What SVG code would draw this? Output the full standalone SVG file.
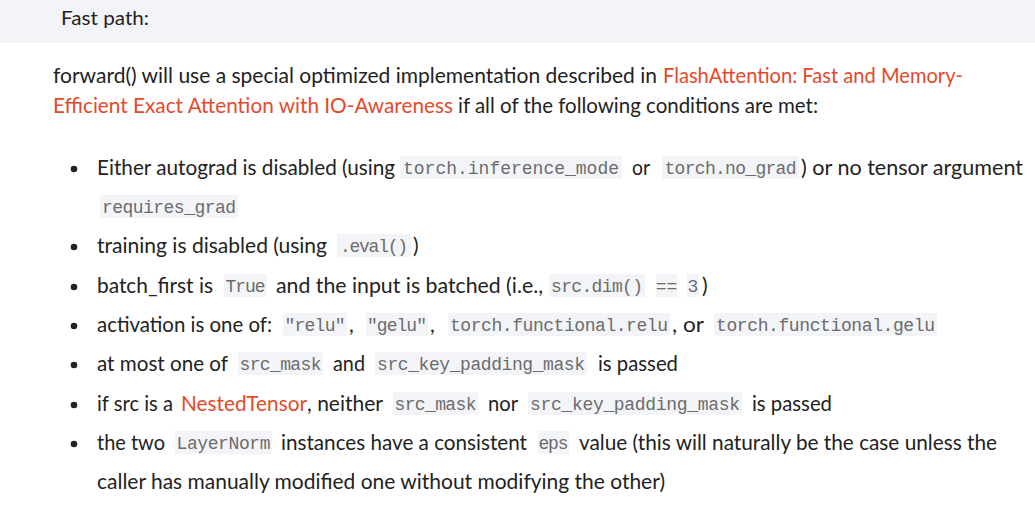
<svg xmlns="http://www.w3.org/2000/svg" width="1035" height="511" viewBox="0 0 1035 511">
<style>
.t{font-family:Lato,"Open Sans","Liberation Sans",sans-serif;font-size:21px;fill:#222222}
.h{font-family:Lato,"Open Sans","Liberation Sans",sans-serif;font-size:20px;fill:#222222}
.a{fill:#e5492b}
.c{font-family:"Liberation Mono","DejaVu Sans Mono",monospace;font-size:18px;fill:#6c6c6d;text-anchor:middle}
.cb{fill:#f3f4f7}
.d{fill:#222222}
</style>
<rect x="0" y="0" width="1035" height="43" fill="#f3f4f7"/>
<text class="h" x="61" y="25" textLength="88" lengthAdjust="spacingAndGlyphs">Fast path:</text>

<g id="intro">
<text class="t" x="53" y="83" textLength="604" lengthAdjust="spacingAndGlyphs">forward() will use a special optimized implementation described in</text>
<text class="t a" x="663" y="83" textLength="300" lengthAdjust="spacingAndGlyphs">FlashAttention: Fast and Memory-</text>
<text class="t a" x="53" y="113" textLength="400" lengthAdjust="spacingAndGlyphs">Efficient Exact Attention with IO-Awareness</text>
<text class="t" x="458" y="113" textLength="360" lengthAdjust="spacingAndGlyphs">if all of the following conditions are met:</text>
</g>

<g id="bullets">
<circle class="d" cx="74" cy="169" r="3.3"/>
<circle class="d" cx="74" cy="247" r="3.3"/>
<circle class="d" cx="74" cy="287" r="3.3"/>
<circle class="d" cx="74" cy="326" r="3.3"/>
<circle class="d" cx="74" cy="365" r="3.3"/>
<circle class="d" cx="74" cy="405" r="3.3"/>
<circle class="d" cx="74" cy="444" r="3.3"/>
</g>

<g id="code-boxes">
<rect class="cb" x="400" y="156" width="222" height="23"/>
<rect class="cb" x="662" y="156" width="137" height="23"/>
<rect class="cb" x="100" y="195" width="138" height="23"/>
<rect class="cb" x="337" y="234" width="74" height="23"/>
<rect class="cb" x="224" y="274" width="43" height="23"/>
<rect class="cb" x="549" y="274" width="96" height="23"/>
<rect class="cb" x="656" y="274" width="21" height="23"/>
<rect class="cb" x="687" y="274" width="12" height="23"/>
<rect class="cb" x="283" y="313" width="64" height="23"/>
<rect class="cb" x="366" y="313" width="62" height="23"/>
<rect class="cb" x="448" y="313" width="222" height="23"/>
<rect class="cb" x="714" y="313" width="223" height="23"/>
<rect class="cb" x="238" y="352" width="85" height="23"/>
<rect class="cb" x="375" y="352" width="212" height="23"/>
<rect class="cb" x="393" y="392" width="85" height="23"/>
<rect class="cb" x="528" y="392" width="214" height="23"/>
<rect class="cb" x="175" y="431" width="97" height="23"/>
<rect class="cb" x="538" y="431" width="31" height="23"/>
</g>

<g id="code-text">
<text class="c" x="511" y="174" textLength="216">torch.inference_mode</text>
<text class="c" x="730.5" y="174" textLength="132">torch.no_grad</text>
<text class="c" x="169" y="213" textLength="134">requires_grad</text>
<text class="c" x="374" y="252" textLength="68">.eval()</text>
<text class="c" x="245.5" y="292" textLength="40">True</text>
<text class="c" x="597" y="292" textLength="92">src.dim()</text>
<text class="c" x="666.5" y="292">==</text>
<text class="c" x="693" y="292">3</text>
<text class="c" x="315" y="331" textLength="61">"relu"</text>
<text class="c" x="397" y="331" textLength="60">"gelu"</text>
<text class="c" x="559" y="331" textLength="218">torch.functional.relu</text>
<text class="c" x="825.5" y="331" textLength="219">torch.functional.gelu</text>
<text class="c" x="280.5" y="370" textLength="82">src_mask</text>
<text class="c" x="481" y="370" textLength="208">src_key_padding_mask</text>
<text class="c" x="435.5" y="410" textLength="82">src_mask</text>
<text class="c" x="635" y="410" textLength="210">src_key_padding_mask</text>
<text class="c" x="223.5" y="449" textLength="94">LayerNorm</text>
<text class="c" x="553.5" y="449" textLength="30">eps</text>
</g>

<g id="body-text">
<text class="t" x="97" y="175" textLength="298" lengthAdjust="spacingAndGlyphs">Either autograd is disabled (using</text>
<text class="t" x="632" y="175" textLength="18" lengthAdjust="spacingAndGlyphs">or</text>
<text class="t" x="801" y="175" textLength="222" lengthAdjust="spacingAndGlyphs">) or no tensor argument</text>

<text class="t" x="97" y="253" textLength="230" lengthAdjust="spacingAndGlyphs">training is disabled (using</text>
<text class="t" x="413" y="253">)</text>

<text class="t" x="97" y="293" textLength="116" lengthAdjust="spacingAndGlyphs">batch_first is</text>
<text class="t" x="276" y="293" textLength="267" lengthAdjust="spacingAndGlyphs">and the input is batched (i.e.,</text>
<text class="t" x="702" y="293">)</text>

<text class="t" x="97" y="332" textLength="175" lengthAdjust="spacingAndGlyphs">activation is one of:</text>
<text class="t" x="349" y="332">,</text>
<text class="t" x="430" y="332">,</text>
<text class="t" x="672" y="332" textLength="32" lengthAdjust="spacingAndGlyphs">, or</text>

<text class="t" x="97" y="371" textLength="131" lengthAdjust="spacingAndGlyphs">at most one of</text>
<text class="t" x="333" y="371" textLength="32" lengthAdjust="spacingAndGlyphs">and</text>
<text class="t" x="598" y="371" textLength="80" lengthAdjust="spacingAndGlyphs">is passed</text>

<text class="t" x="97" y="411" textLength="76" lengthAdjust="spacingAndGlyphs">if src is a</text>
<text class="t a" x="181" y="411" textLength="126" lengthAdjust="spacingAndGlyphs">NestedTensor</text>
<text class="t" x="307" y="411" textLength="76" lengthAdjust="spacingAndGlyphs">, neither</text>
<text class="t" x="488" y="411" textLength="30" lengthAdjust="spacingAndGlyphs">nor</text>
<text class="t" x="752" y="411" textLength="80" lengthAdjust="spacingAndGlyphs">is passed</text>

<text class="t" x="97" y="450" textLength="68" lengthAdjust="spacingAndGlyphs">the two</text>
<text class="t" x="281" y="450" textLength="246" lengthAdjust="spacingAndGlyphs">instances have a consistent</text>
<text class="t" x="579" y="450" textLength="418" lengthAdjust="spacingAndGlyphs">value (this will naturally be the case unless the</text>
<text class="t" x="97" y="489" textLength="568" lengthAdjust="spacingAndGlyphs">caller has manually modified one without modifying the other)</text>
</g>
</svg>
